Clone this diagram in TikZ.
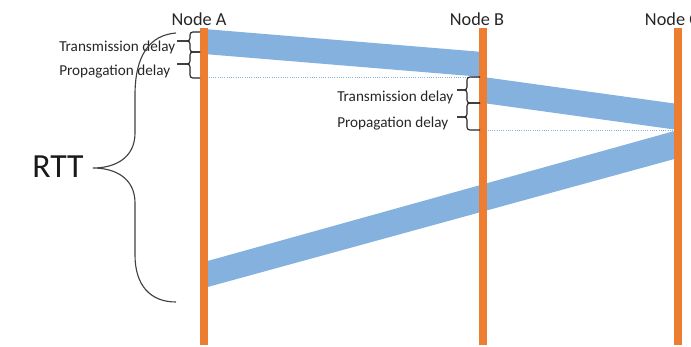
\documentclass[tikz,border=0pt]{standalone}
\usepackage{fontspec}
\setmainfont{Carlito}
\usepackage{tikz}

\definecolor{linkorange}{HTML}{ED7D31}
\definecolor{packetblue}{HTML}{84B1DE}

\begin{document}
\begin{tikzpicture}[x=0.025cm, y=-0.025cm,
	nodeline/.style={linkorange, line width=5.8pt},
	packet/.style={fill=packetblue},
	prop/.style={packetblue, densely dotted, line width=0.6pt},
	delaybrace/.style={black!85, line width=0.8pt, rounded corners=2pt},
	delaytext/.style={anchor=base west, inner sep=0pt, text=black!85, font=\fontsize{10.8}{12}\selectfont},
	nodelabel/.style={anchor=south, inner sep=0pt, text=black!85, font=\fontsize{13}{15}\selectfont}]
	\useasboundingbox (0,0) rectangle (691,347);
	% the three node lines
	\coordinate (A top) at (204,28); \coordinate (A bot) at (204,345);
	\coordinate (B top) at (483,28); \coordinate (B bot) at (483,345);
	\coordinate (C top) at (678,28); \coordinate (C bot) at (678,345);
	% packet edges on the lines
	\coordinate (A1) at (204,29); \coordinate (A2) at (204,54);
	\coordinate (B1) at (483,52); \coordinate (B2) at (483,77); \coordinate (B3) at (483,103);
	\coordinate (C1) at (678,104); \coordinate (C2) at (678,130); \coordinate (C3) at (678,158);
	\coordinate (A3) at (204,262); \coordinate (A4) at (204,288);
	\coordinate (A prop) at (204,77); \coordinate (B prop) at (483,130);
	\fill[packet] (A1) -- (B1) -- (B2) -- (A2) -- cycle;
	\fill[packet] (B2) -- (C1) -- (C2) -- (B3) -- cycle;
	\fill[packet] (C2) -- (C3) -- (A4) -- (A3) -- cycle;
	\draw[prop] (A prop) -- (B2);
	\draw[prop] (B prop) -- (C2);
	\draw[nodeline] (A top) -- (A bot);
	\draw[nodeline] (B top) -- (B bot);
	\draw[nodeline] (C top) -- (C bot);
	\node (labelA) [nodelabel] at (199,26) {Node A};
	\node (labelB) [nodelabel] at (477,26) {Node B};
	\node (labelC) [nodelabel] at (672,26) {Node C};
	% delay braces: end x / vertical x / tip x / top / tip y / bottom
	\foreach \e/\v/\t/\ya/\ym/\yb in {200/190/177/32/41/52, 200/190/177/52/64/78, 480/467/457/77/90/103, 480/467/457/103/117/130}
	{
		\draw[delaybrace] (\e,\ya) -| (\v,\ym) -- (\t,\ym);
		\draw[delaybrace] (\e,\yb) -| (\v,\ym) -- (\t,\ym);
	}
	\node (transA) [delaytext] at (59,52) {Transmission delay};
	\node (propA) [delaytext] at (59,76) {Propagation delay};
	\node (transB) [delaytext] at (337,102) {Transmission delay};
	\node (propB) [delaytext] at (337,128) {Propagation delay};
	% round trip
	\draw[black!75, line width=0.8pt] (176,33) .. controls (150,35) and (135,55) .. (135,95) -- (135,133) .. controls (135,158) and (115,168) .. (93,168)
		.. controls (115,168) and (135,178) .. (135,203) -- (135,255) .. controls (135,285) and (150,302) .. (176,302);
	\node (rtt) [anchor=east, inner sep=0pt, text=black!90, font=\fontsize{24}{28}\selectfont] at (84,167) {RTT};
\end{tikzpicture}
\end{document}
